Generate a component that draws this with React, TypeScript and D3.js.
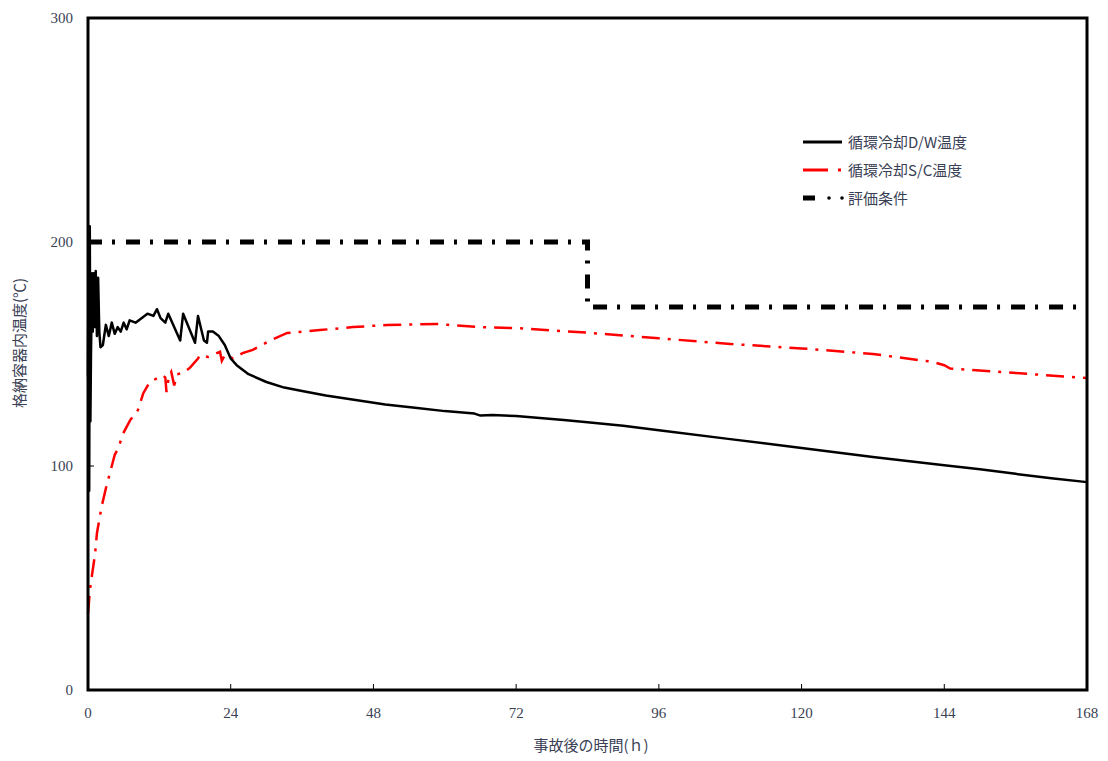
import React from "react";
import * as d3 from "d3";

const dwTemp: [number, number][] = [
  [0, 140], [0.1, 205], [0.2, 89], [0.3, 207], [0.4, 120], [0.5, 150], [0.7, 186], [0.8, 160],
  [1.0, 186], [1.1, 162], [1.3, 187], [1.5, 158], [1.7, 184], [1.9, 160], [2.1, 153], [2.5, 154],
  [3, 163], [3.5, 158], [4, 164], [4.5, 159], [5, 162], [5.5, 160], [6, 164], [6.5, 161], [7, 165],
  [8, 164], [9, 166], [10, 168], [11, 167], [11.6, 170], [12.2, 166], [13, 164], [13.5, 168],
  [15.5, 156], [16, 168], [18, 155], [18.5, 167], [19.5, 156], [20, 155], [20.2, 160], [21, 160],
  [22, 158], [23, 154], [24, 148], [25, 145], [27, 141], [30, 137.5], [33, 135], [36, 133.5],
  [40, 131.5], [45, 129.5], [50, 127.5], [55, 126], [60, 124.5], [65, 123.4], [66, 122.5],
  [68, 122.8], [72, 122.3], [80, 120.5], [84, 119.5], [90, 118], [96, 116], [108, 112],
  [120, 108], [132, 104], [144, 100.3], [150, 98.5], [156, 96.5], [162, 94.5], [168, 92.8],
];

const scTemp: [number, number][] = [
  [0, 34], [0.3, 44], [0.6, 50], [1.2, 61], [1.5, 70], [2.3, 82], [3.1, 91], [4, 100], [4.5, 105],
  [5.1, 108], [5.9, 114.5], [7.1, 120.5], [8.4, 125], [9.3, 132.5], [10.4, 137.5], [11.5, 139],
  [12.6, 140.5], [13, 139.5], [13.2, 133], [13.6, 140], [14, 142], [14.5, 136], [15, 141],
  [16, 141.5], [17.2, 144], [18.5, 148], [18.8, 149.5], [20.2, 148.7], [22.2, 151], [22.5, 147],
  [23, 149.5], [24.4, 148], [26, 150.4], [27.7, 151.8], [30.6, 156], [33.5, 159.4], [39, 160.7],
  [44.6, 162], [50.3, 163], [58.7, 163.4], [66, 162], [72.7, 161.5], [84, 159.5], [96, 157],
  [108, 154.5], [120, 152.5], [132, 150], [142, 146.5], [144, 145], [145, 143.5], [148, 143],
  [156, 141.5], [168, 139.3],
];

const evalCond: [number, number][] = [
  [0, 200], [84, 200], [84, 171], [168, 171],
];

const xTicks = [0, 24, 48, 72, 96, 120, 144, 168];
const yTicks = [0, 100, 200, 300];
const legendLabels = ["循環冷却D/W温度", "循環冷却S/C温度", "評価条件"];
const xTitle = "事故後の時間(ｈ)";
const yTitle = "格納容器内温度(℃)";

export default function App() {
  const W = 1108, H = 761;
  const L = 88, R = 1087, T = 18, B = 690;
  const x = d3.scaleLinear().domain([0, 168]).range([L, R]);
  const y = d3.scaleLinear().domain([0, 300]).range([B, T]);
  const line = d3.line<[number, number]>().x(d => x(d[0])).y(d => y(d[1]));
  const labelColor = "#3a3f55";
  const serif = "'Liberation Serif', 'DejaVu Serif', serif";
  const cjk = "'Noto Sans CJK JP', sans-serif";

  return (
    <svg width={W} height={H} style={{ position: "absolute", left: 0, top: 0, background: "#fff" }}>
      <rect x={0} y={0} width={W} height={H} fill="#fff" />
      {/* series */}
      <path d={line(evalCond) || ""} fill="none" stroke="#000" strokeWidth={5}
        strokeDasharray="14,10,3,11" />
      <path d={line(scTemp) || ""} fill="none" stroke="#ff0000" strokeWidth={2.5}
        strokeDasharray="18,8,3,8" />
      <path d={line(dwTemp) || ""} fill="none" stroke="#000" strokeWidth={2.5} strokeLinejoin="round" />
      {/* frame */}
      <rect x={L} y={T} width={R - L} height={B - T} fill="none" stroke="#000" strokeWidth={3} />
      {/* x ticks */}
      {xTicks.map(t => (
        <g key={"x" + t}>
          <line x1={x(t)} x2={x(t)} y1={B} y2={B - 6} stroke="#000" strokeWidth={1} />
          <text x={x(t)} y={718} textAnchor="middle" fontFamily={serif} fontSize={15} fill={labelColor}>{t}</text>
        </g>
      ))}
      {/* y ticks */}
      {yTicks.map(t => (
        <g key={"y" + t}>
          <line x1={L} x2={L + 6} y1={y(t)} y2={y(t)} stroke="#000" strokeWidth={1} />
          <text x={73} y={y(t) + 5} textAnchor="end" fontFamily={serif} fontSize={15} fill={labelColor}>{t}</text>
        </g>
      ))}
      {/* titles */}
      <text x={591} y={751} textAnchor="middle" fontFamily={cjk} fontSize={15} fill={labelColor}>{xTitle}</text>
      <text transform={`translate(25,343) rotate(-90)`} textAnchor="middle" fontFamily={cjk} fontSize={15} fill={labelColor}>{yTitle}</text>
      {/* legend */}
      <g>
        <line x1={803} x2={842} y1={142} y2={142} stroke="#000" strokeWidth={3} />
        <line x1={803} x2={828} y1={170} y2={170} stroke="#ff0000" strokeWidth={3} />
        <line x1={838} x2={841} y1={170} y2={170} stroke="#ff0000" strokeWidth={3} />
        <line x1={803} x2={815} y1={198} y2={198} stroke="#000" strokeWidth={5} />
        <circle cx={829} cy={198} r={1.8} fill="#000" />
        <circle cx={842} cy={198} r={1.8} fill="#000" />
        {legendLabels.map((s, i) => (
          <text key={s} x={848} y={148 + i * 28} fontFamily={cjk} fontSize={15} fill={labelColor}>{s}</text>
        ))}
      </g>
    </svg>
  );
}
